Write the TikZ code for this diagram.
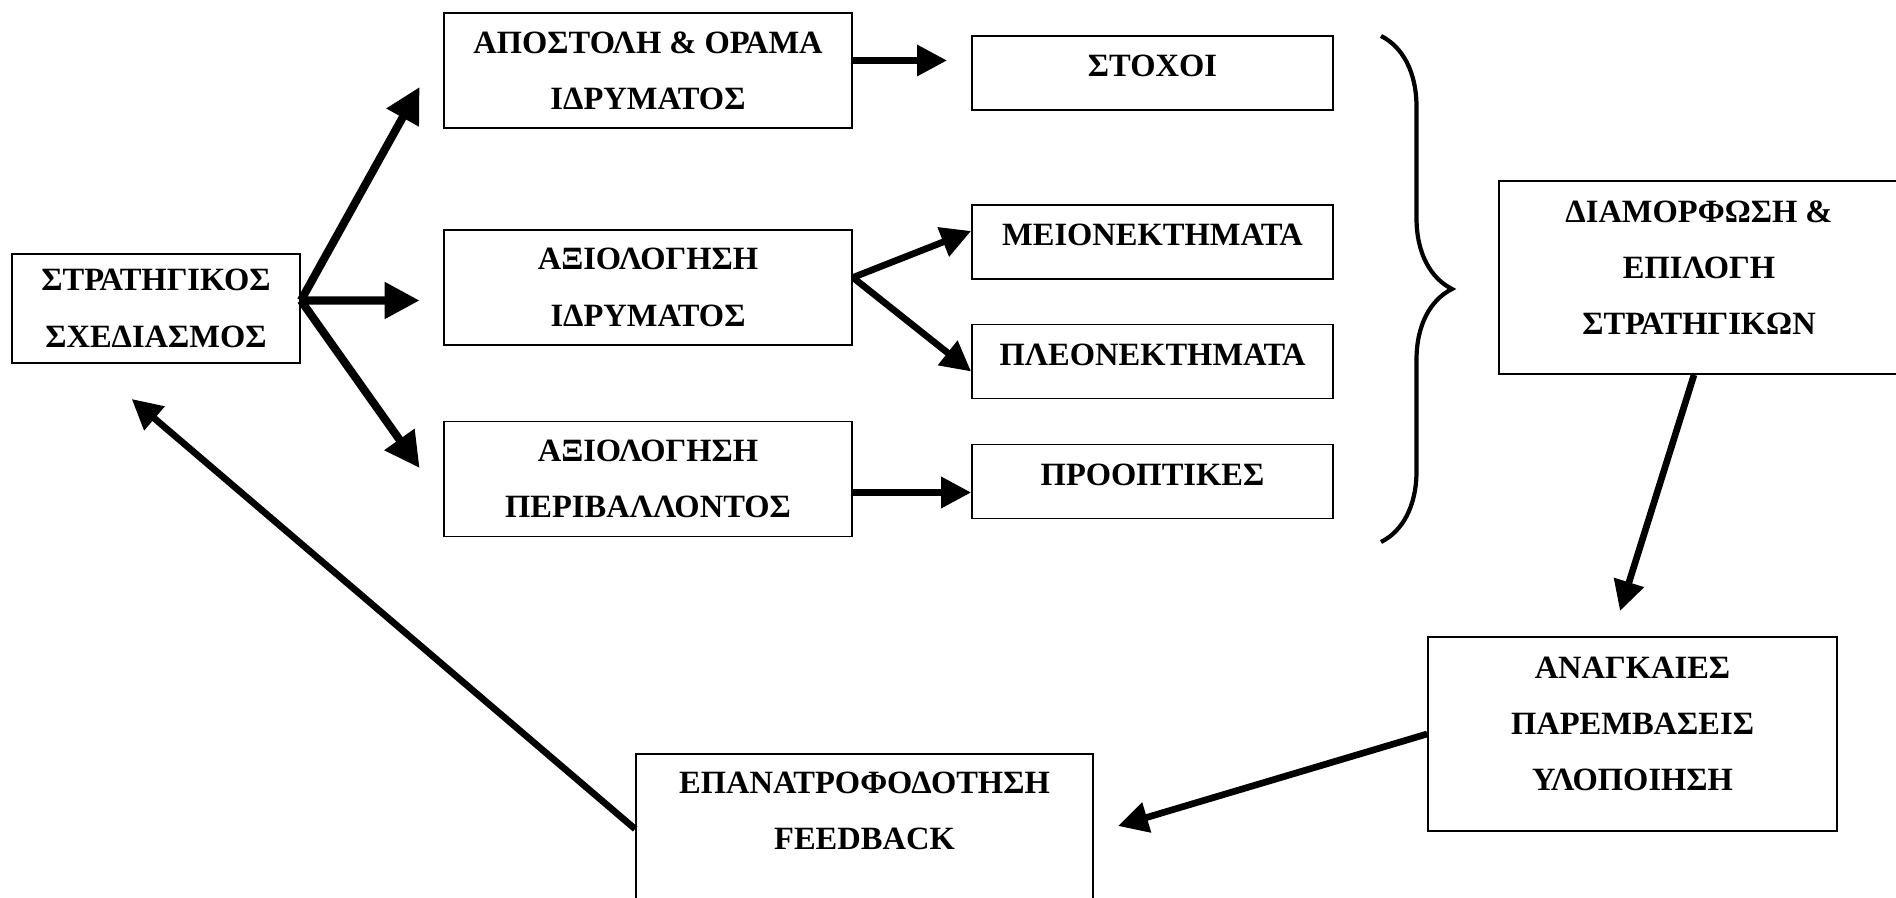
\documentclass[tikz,border=0pt]{standalone}
\usepackage{fontspec}
\setmainfont{Liberation Serif}
\usetikzlibrary{arrows.meta, decorations.pathreplacing}

\tikzset{
    box/.style={draw, line width=0.5pt, inner sep=0pt, align=center,
        font=\fontsize{9.25}{16}\selectfont\bfseries},
    link/.style={-{Triangle[length=3.5mm, width=3.5mm]}, line width=2.3pt},
    shortlink/.style={-{Triangle[length=3mm, width=3mm]}, line width=1.9pt},
}

\begin{document}
\begin{tikzpicture}

    \useasboundingbox (0, 0) rectangle (18.96, 8.98);

    % Starting box
    \node[box, minimum width=2.88cm, minimum height=1.09cm] (strat) at (1.56, 5.895)
        {ΣΤΡΑΤΗΓΙΚΟΣ\\ΣΧΕΔΙΑΣΜΟΣ};

    % Analysis column
    \node[box, minimum width=4.08cm, minimum height=1.15cm] (mission) at (6.48, 8.275)
        {ΑΠΟΣΤΟΛΗ \& ΟΡΑΜΑ\\ΙΔΡΥΜΑΤΟΣ};
    \node[box, minimum width=4.08cm, minimum height=1.15cm] (internal) at (6.48, 6.105)
        {ΑΞΙΟΛΟΓΗΣΗ\\ΙΔΡΥΜΑΤΟΣ};
    \node[box, minimum width=4.08cm, minimum height=1.15cm] (external) at (6.48, 4.19)
        {ΑΞΙΟΛΟΓΗΣΗ\\ΠΕΡΙΒΑΛΛΟΝΤΟΣ};

    % Outcome column
    \node[box, minimum width=3.61cm, minimum height=0.74cm, text depth=1.4mm] (goals) at (11.525, 8.25) {ΣΤΟΧΟΙ};
    \node[box, minimum width=3.61cm, minimum height=0.74cm, text depth=1.4mm] (weak) at (11.525, 6.56) {ΜΕΙΟΝΕΚΤΗΜΑΤΑ};
    \node[box, minimum width=3.61cm, minimum height=0.74cm, text depth=1.4mm] (strong) at (11.525, 5.365) {ΠΛΕΟΝΕΚΤΗΜΑΤΑ};
    \node[box, minimum width=3.61cm, minimum height=0.74cm, text depth=1.4mm] (chances) at (11.525, 4.165) {ΠΡΟΟΠΤΙΚΕΣ};

    % Strategy, action and feedback
    \node[box, minimum width=4.0cm, minimum height=1.93cm, text depth=2mm] (choice) at (16.99, 6.205)
        {ΔΙΑΜΟΡΦΩΣΗ \&\\ΕΠΙΛΟΓΗ\\ΣΤΡΑΤΗΓΙΚΩΝ};
    \node[box, minimum width=4.09cm, minimum height=1.94cm, text depth=2mm] (action) at (16.325, 1.64)
        {ΑΝΑΓΚΑΙΕΣ\\ΠΑΡΕΜΒΑΣΕΙΣ\\ΥΛΟΠΟΙΗΣΗ};
    \node[box, minimum width=4.57cm, minimum height=1.70cm] (feedback) at (8.645, 0.59)
        {ΕΠΑΝΑΤΡΟΦΟΔΟΤΗΣΗ\\FEEDBACK\\~};

    % Free arrow ends
    \coordinate (fan) at ([yshift=0.8mm]strat.east);
    \coordinate (tipA) at (4.196, 8.11);
    \coordinate (tipB) at (4.196, 5.975);
    \coordinate (tipC) at (4.196, 4.30);
    \coordinate (goalstip) at (9.47, 8.375);
    \coordinate (chancestip) at ([yshift=-1.1mm]chances.west);
    \coordinate (acttip) at (16.20, 2.87);
    \coordinate (feedtip) at (11.18, 0.72);
    \coordinate (backtip) at (1.317, 4.99);
    \coordinate (fork) at ([yshift=1mm]internal.east);

    % Fan out of the starting box
    \draw[link] (fan) -- (tipA);
    \draw[link] (fan) -- (tipB);
    \draw[link] (fan) -- (tipC);

    % Analysis to outcomes
    \draw[shortlink] (mission.east |- goalstip) -- (goalstip);
    \draw[shortlink] (fork) -- ([yshift=1.1mm]weak.west);
    \draw[shortlink] (fork) -- ([yshift=-1mm]strong.west);
    \draw[shortlink] (external.east |- chancestip) -- (chancestip);

    % Brace gathering the outcomes
    \draw[line width=1.2pt, decorate, decoration={brace, amplitude=7.1mm}]
        (13.81, 8.62) -- (13.81, 3.56);

    % Cycle back
    \draw[shortlink] ([xshift=-0.5mm]choice.south) -- (acttip);
    \draw[shortlink] (action.west) -- (feedtip);
    \draw[shortlink] ([yshift=1mm]feedback.west) -- (backtip);

\end{tikzpicture}
\end{document}
